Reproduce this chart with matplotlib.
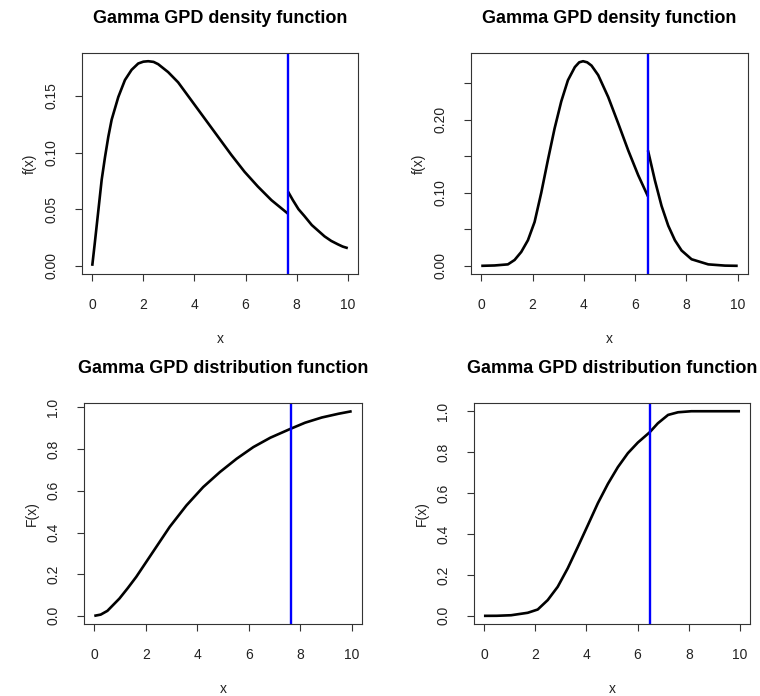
#!/usr/bin/env python3
"""Gamma body + GPD tail: density and distribution function, two parameter sets."""
import numpy as np
import matplotlib
matplotlib.use("Agg")
import matplotlib.pyplot as plt

plt.rcParams["font.family"] = ["Liberation Sans", "DejaVu Sans"]

# thresholds (blue lines)
U_LEFT = 7.66
U_RIGHT = 6.5

# left column: density, split at the threshold
dl_x_lo = [0, 0.1, 0.24, 0.37, 0.5, 0.63, 0.76, 1.02, 1.28, 1.54, 1.8, 2.0, 2.19, 2.4,
           2.58, 2.97, 3.36, 3.88, 4.4, 4.92, 5.44, 5.96, 6.48, 7.01, 7.66]
dl_y_lo = [0, 0.020, 0.049, 0.076, 0.096, 0.114, 0.129, 0.149, 0.164, 0.173, 0.1786,
           0.1802, 0.1806, 0.1800, 0.178, 0.171, 0.162, 0.146, 0.130, 0.114, 0.098,
           0.083, 0.070, 0.058, 0.046]
dl_x_hi = [7.66, 7.85, 8.07, 8.3, 8.59, 9.09, 9.35, 9.61, 9.8, 10.0]
dl_y_hi = [0.0655, 0.058, 0.050, 0.044, 0.036, 0.026, 0.022, 0.019, 0.017, 0.0156]

# right column: density
dr_x_lo = [0, 0.52, 1.04, 1.30, 1.56, 1.82, 2.08, 2.34, 2.60, 2.86, 3.12, 3.38, 3.65,
           3.82, 3.97, 4.13, 4.30, 4.56, 4.95, 5.34, 5.73, 6.12, 6.5]
dr_y_lo = [0, 0.0005, 0.002, 0.008, 0.019, 0.035, 0.060, 0.100, 0.145, 0.188, 0.225,
           0.254, 0.272, 0.2785, 0.280, 0.2785, 0.274, 0.261, 0.231, 0.195, 0.158,
           0.124, 0.095]
dr_x_hi = [6.5, 6.77, 7.03, 7.29, 7.55, 7.81, 8.2, 8.85, 9.5, 10.0]
dr_y_hi = [0.158, 0.117, 0.082, 0.055, 0.035, 0.021, 0.009, 0.002, 0.0003, 0]

# distribution functions
cl_x = [0, 0.25, 0.51, 0.977, 1.3, 1.63, 2.28, 2.93, 3.58, 4.23, 4.88, 5.53, 6.18,
        6.84, 7.63, 8.19, 8.84, 9.49, 10.0]
cl_y = [0, 0.006, 0.024, 0.083, 0.133, 0.187, 0.307, 0.427, 0.530, 0.618, 0.690,
        0.754, 0.810, 0.855, 0.898, 0.927, 0.952, 0.970, 0.982]
cr_x = [0, 0.5, 1.06, 1.71, 2.10, 2.49, 2.88, 3.27, 3.67, 4.06, 4.45, 4.84, 5.23,
        5.62, 6.01, 6.47, 6.79, 7.19, 7.58, 8.1, 9.0, 10.0]
cr_y = [0, 0.0003, 0.003, 0.015, 0.031, 0.077, 0.142, 0.232, 0.338, 0.444, 0.551,
        0.645, 0.727, 0.795, 0.847, 0.897, 0.941, 0.982, 0.995, 1.0, 1.0, 1.0]

X_TICKS = [0, 2, 4, 6, 8, 10]
DL_TICKS = [0.00, 0.05, 0.10, 0.15]
DL_LABELS = ["0.00", "0.05", "0.10", "0.15"]
DR_TICKS = [0.00, 0.05, 0.10, 0.15, 0.20, 0.25]
DR_LABELS = ["0.00", "", "0.10", "", "0.20", ""]
C_TICKS = [0.0, 0.2, 0.4, 0.6, 0.8, 1.0]
C_LABELS = ["0.0", "0.2", "0.4", "0.6", "0.8", "1.0"]

fig = plt.figure(figsize=(7.6, 6.96), dpi=100)
BOX = "#333333"


def panel(rect, segs, u, title, ylab, yticks, ylabels):
    ax = fig.add_axes(rect)
    for xs, ys in segs:
        ax.plot(xs, ys, color="black", lw=1.9, solid_capstyle="butt",
                solid_joinstyle="round")
    ax.axvline(u, color="#0000ff", lw=1.7)
    # R style 4% padding around the data
    ally = np.concatenate([np.asarray(s[1], float) for s in segs])
    lo, hi = ally.min(), ally.max()
    pad = 0.04 * (hi - lo)
    ax.set_ylim(lo - pad, hi + pad)
    ax.set_xlim(-0.4, 10.4)
    ax.set_xticks(X_TICKS)
    ax.set_xticklabels([str(t) for t in X_TICKS])
    ax.set_yticks(yticks)
    ax.set_yticklabels(ylabels, rotation=90, va="center")
    ax.tick_params(length=5, width=0.8, color=BOX, labelsize=10,
                   labelcolor="#222222", pad=12)
    for sp in ax.spines.values():
        sp.set_color(BOX)
        sp.set_linewidth(0.8)
    ax.set_xlabel("x", fontsize=10, color="#222222", va="center")
    ax.xaxis.set_label_coords(0.5, -0.295)
    ax.set_ylabel(ylab, fontsize=10, color="#222222", va="center")
    ax.yaxis.set_label_coords(-0.188, 0.5)
    ax.text(0.5, 1 + 35 / 221, title, transform=ax.transAxes, ha="center",
            va="center", fontsize=13, fontweight="bold")
    return ax


panel([0.1079, 0.6063, 0.3632, 0.3175], [(dl_x_lo, dl_y_lo), (dl_x_hi, dl_y_hi)],
      U_LEFT, "Gamma GPD density function", "f(x)", DL_TICKS, DL_LABELS)
panel([0.6197, 0.6063, 0.3645, 0.3175], [(dr_x_lo, dr_y_lo), (dr_x_hi, dr_y_hi)],
      U_RIGHT, "Gamma GPD density function", "f(x)", DR_TICKS, DR_LABELS)
panel([0.1105, 0.1034, 0.3658, 0.3175], [(cl_x, cl_y)],
      U_LEFT, "Gamma GPD distribution function", "F(x)", C_TICKS, C_LABELS)
panel([0.6233, 0.1034, 0.3639, 0.3175], [(cr_x, cr_y)],
      U_RIGHT, "Gamma GPD distribution function", "F(x)", C_TICKS, C_LABELS)

fig.savefig("out.png", dpi=100)
print("Wrote out.png")
